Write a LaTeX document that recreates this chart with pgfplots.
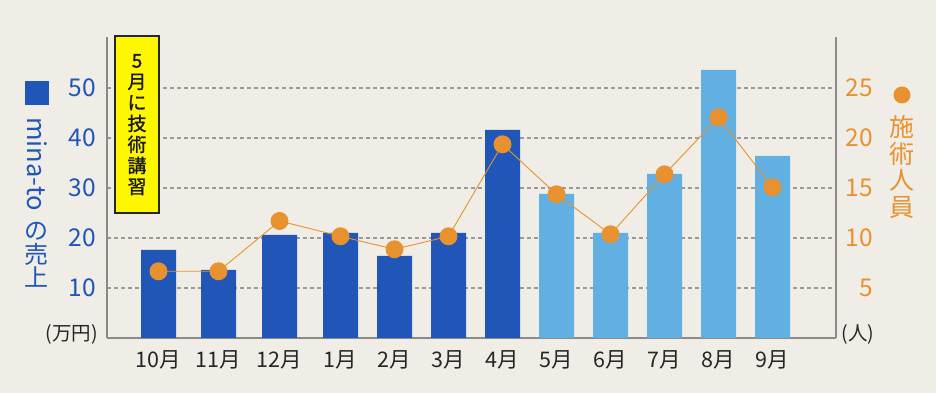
\documentclass[border=0pt]{standalone}
\usepackage{pgfplots}
\pgfplotsset{compat=1.18}
\usepackage{fontspec}
\setmainfont{Noto Sans CJK JP}
\newfontfamily\boxfont[FakeBold=1.2]{Noto Sans CJK JP}
\definecolor{bg}{HTML}{F0EDE6}
\definecolor{dblue}{HTML}{1F56B8}
\definecolor{lblue}{HTML}{62B0E2}
\definecolor{orng}{HTML}{E8922F}
\definecolor{txt}{HTML}{262626}
\definecolor{axgray}{HTML}{8A8A8A}
\definecolor{gridc}{HTML}{9A9A9A}
\definecolor{ylw}{HTML}{FFF700}
\begin{document}
\begin{tikzpicture}
\fill[bg] (-107pt,-55pt) rectangle (829pt,338pt);
\begin{axis}[
  at={(0pt,0pt)}, anchor=south west,
  scale only axis, width=729pt, height=301pt,
  xmin=107, xmax=836, ymin=0, ymax=60.2,
  axis x line=bottom, axis y line=left,
  axis line style={-, draw=axgray, line width=2pt},
  xtick={158.5,218.5,279.5,340.5,394.5,448.5,502.5,556.5,610.5,664.5,718.5,772.5},
  xticklabels={10月,11月,12月,1月,2月,3月,4月,5月,6月,7月,8月,9月},
  xticklabel style={anchor=base, yshift=-29pt, inner sep=0pt, font=\fontsize{21.5}{21.5}\selectfont, text=txt},
  ytick={10,20,30,40,50},
  yticklabel style={anchor=east, xshift=-11pt, inner sep=0pt, font=\fontsize{24.5}{24.5}\selectfont, text=dblue},
  major tick length=0pt,
  ymajorgrids, major grid style={draw=gridc, dash pattern=on 4pt off 3pt, line width=1.2pt},
  /pgf/number format/assume math mode=true,
  ybar, bar width=35, bar shift=0pt,
]
\addplot[fill=dblue, draw=none] coordinates {(158.5,17.6) (218.5,13.6) (279.5,20.6) (340.5,21.0) (394.5,16.4) (448.5,21.0) (502.5,41.6)};
\addplot[fill=lblue, draw=none] coordinates {(556.5,28.8) (610.5,21.0) (664.5,32.8) (718.5,53.6) (772.5,36.4)};
\end{axis}
\begin{axis}[
  at={(0pt,0pt)}, anchor=south west,
  scale only axis, width=729pt, height=301pt,
  xmin=107, xmax=836, ymin=0, ymax=30.1,
  axis x line=none, axis y line=right,
  axis line style={-, draw=axgray, line width=2pt},
  ytick={5,10,15,20,25},
  yticklabel style={anchor=east, xshift=37pt, inner sep=0pt, font=\fontsize{24.5}{24.5}\selectfont, text=orng},
  major tick length=0pt, clip=false,
  /pgf/number format/assume math mode=true,
]
\addplot[orng, line width=0.9pt, mark=*, mark size=8.5pt, mark options={fill=orng, draw=none}] coordinates {(158.5,6.67) (218.5,6.67) (279.5,11.7) (340.5,10.17) (394.5,8.87) (448.5,10.17) (502.5,19.37) (556.5,14.37) (610.5,10.37) (664.5,16.37) (718.5,22.07) (772.5,15.07)};
\end{axis}
% yellow note box
\draw[fill=ylw, draw=black!85, line width=2pt] (8pt,302pt) rectangle (52pt,125pt);
\node[align=center, inner sep=0pt, text=black!90, font=\boxfont\fontsize{19}{21}\selectfont] at (30pt,213.4pt) {5\\月\\に\\技\\術\\講\\習};
% left legend
\fill[dblue] (-82pt,257pt) rectangle (-58pt,233pt);
\node[rotate=-90, inner sep=0pt, text=dblue, font=\fontsize{25.5}{25.5}\selectfont] at (-70pt,174pt) {mina-to};
\node[inner sep=0pt, text=dblue, font=\fontsize{24}{24}\selectfont] at (-70pt,106.3pt) {の};
\node[inner sep=0pt, text=dblue, font=\fontsize{24}{24}\selectfont] at (-70pt,84pt) {売};
\node[inner sep=0pt, text=dblue, font=\fontsize{24}{24}\selectfont] at (-70pt,61.3pt) {上};
\node[inner sep=0pt, text=txt, font=\fontsize{19.5}{19.5}\selectfont] at (-35.3pt,4pt) {(万円)};
% right legend
\fill[orng] (795pt,243pt) circle (8.5pt);
\node[align=center, inner sep=0pt, text=orng, font=\fontsize{25}{26.5}\selectfont] at (795pt,171pt) {施\\術\\人\\員};
\node[inner sep=0pt, text=txt, font=\fontsize{19.5}{19.5}\selectfont] at (751pt,4pt) {(人)};
\pgfresetboundingbox
\useasboundingbox (-107pt,-55pt) rectangle (829pt,338pt);
\end{tikzpicture}
\end{document}
